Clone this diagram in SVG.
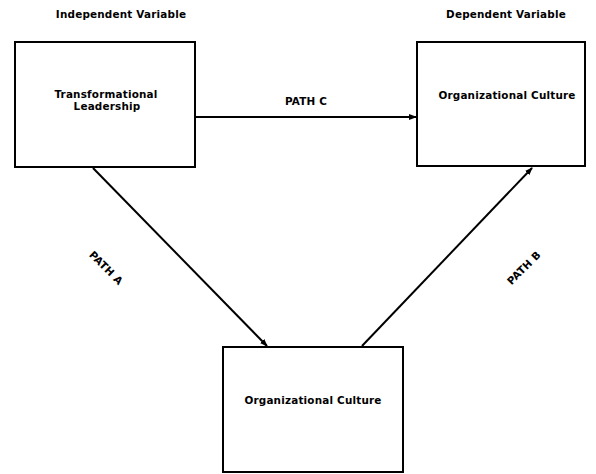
<svg xmlns="http://www.w3.org/2000/svg" width="596" height="474" viewBox="0 0 596 474">
<defs>
<style>
text{font-family:"DejaVu Sans","Liberation Sans",Arial,sans-serif;font-weight:bold;font-size:10.4px;letter-spacing:0.2px;fill:#000;text-anchor:middle}
.box{fill:#fff;stroke:#000;stroke-width:2}
.conn{stroke:#000;stroke-width:2;fill:none}
</style>
<marker id="ah" markerWidth="8" markerHeight="6" refX="7" refY="3" orient="auto" markerUnits="userSpaceOnUse">
<path d="M0,0 L8,3 L0,6 z" fill="#000"/>
</marker>
</defs>
<rect width="596" height="474" fill="#fff"/>
<text x="121" y="18">Independent Variable</text>
<text x="506" y="18">Dependent Variable</text>
<g id="connectors">
<line class="conn" x1="196" y1="117" x2="416" y2="117" marker-end="url(#ah)"/>
<line class="conn" x1="93" y1="168" x2="267" y2="346" marker-end="url(#ah)"/>
<line class="conn" x1="362" y1="346" x2="532" y2="168" marker-end="url(#ah)"/>
<text x="306" y="105">PATH C</text>
<text transform="translate(106,268) rotate(45)" y="3.5">PATH A</text>
<text transform="translate(524,268) rotate(-45)" y="3.5">PATH B</text>
</g>
<g id="node-transformational">
<rect class="box" x="15" y="42" width="180" height="125"/>
<text x="106" y="98">Transformational</text>
<text x="107" y="110">Leadership</text>
</g>
<g id="node-culture-dependent">
<rect class="box" x="417" y="42" width="168" height="124"/>
<text x="507" y="99">Organizational Culture</text>
</g>
<g id="node-culture-mediator">
<rect class="box" x="223" y="347" width="180" height="125"/>
<text x="313" y="404">Organizational Culture</text>
</g>
</svg>
